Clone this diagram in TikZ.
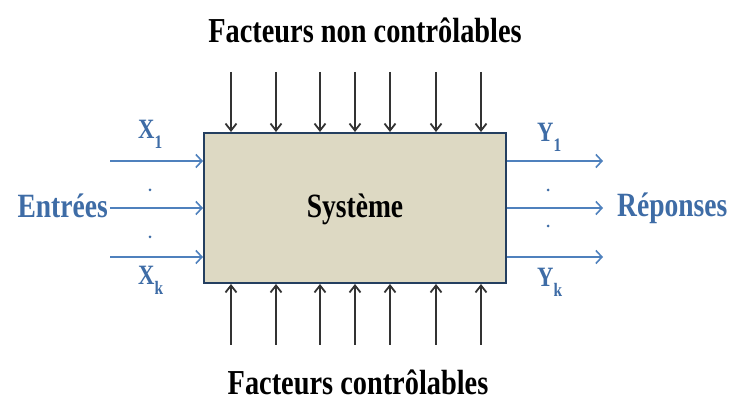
\documentclass[tikz,border=0pt]{standalone}
\usepackage{fontspec}
\setmainfont{Liberation Serif}
\newfontfamily\cond[FakeStretch=0.81]{Liberation Serif}
\usetikzlibrary{arrows.meta}
\definecolor{bluetxt}{HTML}{3E6CA6}
\definecolor{bluearr}{HTML}{4F81BD}
\definecolor{boxfill}{HTML}{DDD9C3}
\definecolor{boxline}{HTML}{243F60}
\begin{document}
\begin{tikzpicture}[x=1pt,y=-1pt,
  titletext/.style={font=\cond\bfseries\fontsize{35}{35}\selectfont, text=black, inner sep=0pt, anchor=base},
  bluelabel/.style={font=\cond\bfseries\fontsize{34}{34}\selectfont, text=bluetxt, inner sep=0pt},
  varlabel/.style={font=\cond\bfseries\fontsize{28}{28}\selectfont, text=bluetxt, inner sep=0pt, anchor=base west},
  inarrow/.style={draw=bluearr, line width=1.6pt, -{Straight Barb[length=6pt,width=13pt,line width=1.6pt]}},
  factarrow/.style={draw=black!80, line width=1.5pt, -{Straight Barb[length=7pt,width=11pt,line width=1.8pt]}},
  dotmark/.style={fill=bluetxt, circle, inner sep=0pt, minimum size=3pt}]
\useasboundingbox (0,0) rectangle (732,403);
\node[draw=boxline, fill=boxfill, line width=2pt, minimum width=302pt, minimum height=150pt, inner sep=0pt] (sys) at (355,208) {};
\node[font=\cond\bfseries\fontsize{34}{34}\selectfont, inner sep=0pt, anchor=base] (systxt) at (355,218) {Système};
\node[titletext] (top) at (365,43) {Facteurs non contrôlables};
\node[titletext] (bot) at (358,395) {Facteurs contrôlables};
\node[bluelabel, anchor=base east] (entrees) at (108,218) {Entrées};
\node[bluelabel, anchor=base west] (reponses) at (617,217) {Réponses};
\node[varlabel] (x1) at (138,139) {X\raisebox{-10pt}{\fontsize{19}{19}\selectfont 1}};
\node[varlabel] (xk) at (138,285) {X\raisebox{-10pt}{\fontsize{19}{19}\selectfont k}};
\node[varlabel] (y1) at (537,142) {Y\raisebox{-10pt}{\fontsize{19}{19}\selectfont 1}};
\node[varlabel] (yk) at (537,287) {Y\raisebox{-10pt}{\fontsize{19}{19}\selectfont k}};
\node[dotmark] (ld1) at (150,190) {};
\node[dotmark] (ld2) at (150,237) {};
\node[dotmark] (rd1) at (548,190) {};
\node[dotmark] (rd2) at (548,226) {};
\foreach \y [count=\i] in {161,208,257} {
  \coordinate (in\i) at (110,\y);
  \draw[inarrow] (in\i) -- (in\i -| sys.west);
  \coordinate (out\i) at (603,\y);
  \draw[inarrow] (sys.east |- out\i) -- (out\i);
}
\foreach \x [count=\i] in {231,276,320,355,390,436,481} {
  \coordinate (t\i) at (\x,72);
  \draw[factarrow] (t\i) -- (t\i |- sys.north);
  \coordinate (b\i) at (\x,345);
  \draw[factarrow] (b\i) -- (b\i |- sys.south);
}
\end{tikzpicture}
\end{document}
